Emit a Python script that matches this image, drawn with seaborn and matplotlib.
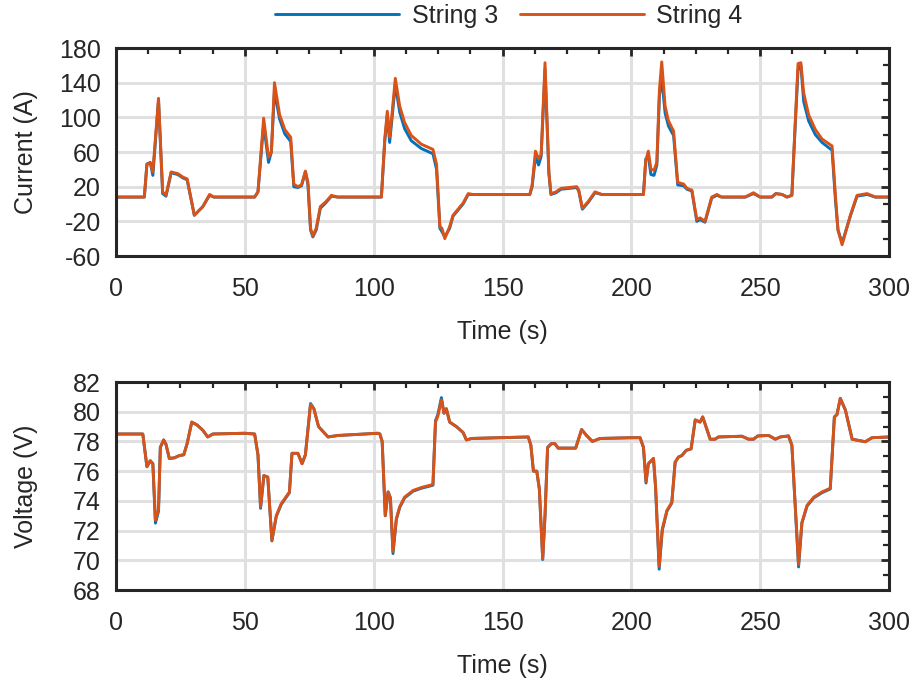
import numpy as np
import pandas as pd
import matplotlib
matplotlib.use("Agg")
import matplotlib.pyplot as plt
from matplotlib.ticker import MultipleLocator
from matplotlib.lines import Line2D
import seaborn as sns

# ---- current (A) ----
t_cur = [0, 11, 12, 13.3, 14.3, 16.5, 18.1, 19.4, 21.4, 24, 26, 27.6, 30.4, 33.7, 36.3, 38,
         53.8, 55.1, 57.3, 59.2, 60.3, 61.5, 63.5, 65.5, 67.8, 69, 70.5, 72, 73.5, 74.5, 75.5,
         76.4, 77.7, 79.3, 81.6, 83.6, 86,
         103, 104.3, 105.3, 106.2, 107, 108.4, 110.1, 112, 114.6, 118.5, 123, 124.4, 125.7,
         126.5, 127.6, 129.5, 130.8, 134.7, 136.7, 138.5,
         160.6, 161.5, 162.8, 164, 165, 166.5, 168, 168.8, 170.8, 172.7, 178.8, 179.6, 181,
         183.3, 185.9, 188.5,
         204.7, 205.6, 206.6, 207.6, 208.8, 209.9, 210.9, 211.8, 213.1, 214.4, 216.4, 218,
         220.3, 221.6, 223.5, 225.4, 226.7, 228.6, 231.2, 233.2, 235, 244.2, 247.4, 250,
         254.5, 256.1, 258.5, 260.4,
         262.3, 263.6, 264.7, 265.8, 266.9, 268.8, 271.4, 274, 277.9, 279.2, 280.2, 281.8,
         285, 287.6, 291.5, 294.7, 300]
i_string3 = [8, 8, 46, 48, 33, 120, 12, 9, 36, 34, 30, 28, -13, -3, 10, 8,
             8, 14, 92, 48, 60, 130, 98, 81, 72, 20, 19, 21, 37, 22, -30,
             -38, -30, -5, 2, 9, 8,
             8, 72, 103, 71, 95, 138, 106, 87, 73, 64, 58, 40, -28,
             -32, -38, -28, -14, 0, 11, 11,
             11, 20, 55, 45, 55, 155, 35, 11, 13, 17, 19, 15, -6,
             2, 13, 11,
             11, 52, 55, 34, 33, 45, 125, 145, 105, 90, 79, 22,
             21, 17, 15, -20, -18, -21, 7, 10, 8, 8, 12, 8,
             8, 12, 11, 8,
             10, 90, 155, 160, 118, 96, 80, 71, 62, 5, -30, -45,
             -14, 9, 11, 8, 8]
i_string4 = [8, 8, 46, 47, 37, 122, 14, 10, 37, 35, 31, 29, -13, -3, 11, 8,
             8, 14, 99, 54, 60, 140, 103, 86, 77, 23, 20, 22, 38, 25, -28,
             -37, -28, -3, 3, 10, 8,
             8, 75, 107, 77, 100, 145, 113, 94, 79, 69, 63, 46, -26,
             -28, -40, -26, -13, 1, 12, 11,
             11, 22, 61, 52, 57, 163, 37, 12, 14, 18, 20, 16, -5,
             3, 14, 11,
             11, 50, 61, 40, 39, 48, 132, 164, 113, 96, 84, 25,
             23, 18, 16, -18, -16, -20, 8, 11, 8, 8, 13, 8,
             8, 12, 11, 8,
             10, 94, 162, 163, 128, 103, 86, 75, 67, 10, -30, -47,
             -13, 10, 12, 8, 8]

# ---- voltage (V) ----
t_vol = [0, 10.4, 12, 13.3, 14.3, 15.3, 16.5, 17.2, 18.5, 19.4, 20.7, 22.7, 24.6, 26.3, 27.6,
         29.4, 31.5, 33.7, 35.6, 37.6, 49.9, 53.8, 55.1, 56.1, 57.4, 58.9, 60.5, 62.2, 64.1,
         66.5, 67.3, 68.3, 70.6, 72.2, 73.5, 75.5, 76.8, 78.6, 82.3, 86.1, 101.7, 102.4,
         103.3, 104.5, 105.6, 106.5, 107.5, 108.8, 110.1, 112, 115.3, 118.5, 123, 124, 124.9,
         126.3, 127.3, 128.2, 129.5, 132.1, 134.7, 136, 138, 160, 161, 162, 163.3, 164.3,
         165.6, 166.5, 167.5, 169, 170.3, 171.6, 178.4, 180.7, 182.6, 184.9, 187.8, 200.2,
         203.4, 204.7, 205.7, 206.6, 208.6, 209.4, 210.8, 212, 213.8, 215.7, 217, 218.3,
         219.6, 221.3, 223.2, 224.8, 226.7, 227.7, 230.6, 232.5, 233.8, 242.9, 245.5, 247.4,
         249.1, 253.3, 255.9, 257.8, 261, 262.3, 264.9, 266.2, 268.2, 270.8, 274, 277.2,
         278.8, 279.8, 281.1, 283.1, 285.7, 290.8, 293.4, 300]
v_string4 = [78.5, 78.5, 76.3, 76.7, 76.5, 72.7, 73.4, 77.6, 78.1, 77.8, 76.85, 76.9, 77.05,
             77.1, 77.85, 79.3, 79.1, 78.75, 78.3, 78.5, 78.55, 78.5, 77.1, 73.6, 75.7, 75.6,
             71.35, 73.0, 73.8, 74.4, 74.6, 77.2, 77.2, 76.5, 77.1, 80.5, 80.2, 79.0, 78.3,
             78.4, 78.55, 78.5, 78.0, 73.0, 74.6, 74.2, 70.6, 72.8, 73.6, 74.25, 74.7, 74.9,
             75.1, 79.3, 79.7, 80.8, 79.9, 80.2, 79.3, 79.0, 78.6, 78.1, 78.2, 78.3, 77.75,
             76.0, 76.0, 74.8, 70.1, 73.0, 77.6, 77.85, 77.85, 77.55, 77.55, 78.8, 78.4, 78.0,
             78.2, 78.25, 78.25, 77.6, 75.3, 76.5, 76.85, 75.0, 69.6, 72.1, 73.35, 73.9, 76.6,
             76.95, 77.05, 77.4, 77.5, 79.45, 79.3, 79.65, 78.15, 78.15, 78.3, 78.35, 78.15,
             78.15, 78.37, 78.4, 78.15, 78.3, 78.37, 77.75, 69.7, 72.55, 73.7, 74.25, 74.6,
             74.85, 79.65, 79.8, 80.9, 80.1, 78.15, 77.98, 78.25, 78.3]
v_string3 = [78.5, 78.5, 76.3, 76.7, 76.5, 72.5, 73.3, 77.6, 78.1, 77.8, 76.85, 76.9, 77.05,
             77.1, 77.85, 79.3, 79.1, 78.75, 78.3, 78.5, 78.55, 78.5, 77.1, 73.5, 75.7, 75.6,
             71.3, 72.95, 73.75, 74.35, 74.55, 77.2, 77.2, 76.5, 77.1, 80.55, 80.2, 79.0, 78.3,
             78.4, 78.55, 78.5, 78.0, 73.0, 74.6, 74.2, 70.45, 72.75, 73.55, 74.2, 74.65, 74.85,
             75.05, 79.4, 79.8, 80.95, 79.9, 80.2, 79.3, 79.0, 78.6, 78.1, 78.2, 78.3, 77.75,
             76.0, 76.0, 74.8, 70.05, 73.0, 77.6, 77.85, 77.85, 77.55, 77.55, 78.8, 78.4, 78.0,
             78.2, 78.25, 78.25, 77.6, 75.2, 76.5, 76.85, 74.9, 69.4, 72.0, 73.3, 73.85, 76.6,
             76.95, 77.05, 77.4, 77.5, 79.45, 79.3, 79.65, 78.15, 78.15, 78.3, 78.35, 78.15,
             78.15, 78.37, 78.4, 78.15, 78.3, 78.37, 77.75, 69.55, 72.5, 73.65, 74.2, 74.55,
             74.8, 79.65, 79.8, 80.9, 80.1, 78.15, 77.98, 78.25, 78.3]

series_names = ["String 3", "String 4"]
palette = {"String 3": "#0072BD", "String 4": "#D95319"}

cur_df = pd.concat([
    pd.DataFrame({"Time": t_cur, "Value": i_string3, "String": series_names[0]}),
    pd.DataFrame({"Time": t_cur, "Value": i_string4, "String": series_names[1]}),
])
vol_df = pd.concat([
    pd.DataFrame({"Time": t_vol, "Value": v_string3, "String": series_names[0]}),
    pd.DataFrame({"Time": t_vol, "Value": v_string4, "String": series_names[1]}),
])

sns.set_theme(style="white")
plt.rcParams["font.family"] = ["Liberation Sans", "DejaVu Sans"]
plt.rcParams["axes.unicode_minus"] = False
dark = "#262626"

fig = plt.figure(figsize=(9.14, 6.84), dpi=100)
ax1 = fig.add_axes([116 / 914, 1 - 256 / 684, 773 / 914, 208 / 684])
ax2 = fig.add_axes([116 / 914, 1 - 590 / 684, 773 / 914, 208 / 684])

for ax, df in ((ax1, cur_df), (ax2, vol_df)):
    sns.lineplot(data=df, x="Time", y="Value", hue="String", palette=palette,
                 linewidth=2.1, ax=ax, legend=False, sort=False)

ax1.set_ylim(-60, 180)
ax1.set_yticks(np.arange(-60, 181, 40))
ax1.yaxis.set_minor_locator(MultipleLocator(20))
ax1.set_ylabel("Current (A)")

ax2.set_ylim(68, 82)
ax2.set_yticks(np.arange(68, 83, 2))
ax2.yaxis.set_minor_locator(MultipleLocator(1))
ax2.set_ylabel("Voltage (V)")

for ax in (ax1, ax2):
    ax.set_xlim(0, 300)
    ax.set_xticks(np.arange(0, 301, 50))
    ax.xaxis.set_minor_locator(MultipleLocator(12.5))
    ax.set_xlabel("Time (s)", fontsize=18, color=dark, labelpad=14)
    ax.yaxis.label.set_fontsize(18)
    ax.yaxis.label.set_color(dark)
    ax.grid(True, which="major", color="#E0E0E0", linewidth=2.2)
    ax.set_axisbelow(True)
    for sp in ax.spines.values():
        sp.set_visible(True)
        sp.set_color(dark)
        sp.set_linewidth(2.2)
    ax.tick_params(axis="both", which="both", direction="in", top=True, right=True,
                   color=dark, labelcolor=dark, labelsize=18)
    ax.tick_params(axis="both", which="major", length=6, width=2)
    ax.tick_params(axis="both", which="minor", length=4, width=1.6)
    ax.tick_params(axis="x", which="major", pad=15)
    ax.tick_params(axis="y", which="major", pad=11)
    ax.yaxis.set_label_coords(-0.101, 0.5)

handles = [Line2D([], [], color=palette[n], linewidth=2.1) for n in series_names]
fig.legend(handles, series_names, loc="center", bbox_to_anchor=(509 / 914, 1 - 16 / 684),
           ncol=2, frameon=False, fontsize=18, handlelength=4.95, handletextpad=0.5,
           columnspacing=0.9, borderpad=0.2)

fig.savefig("out.png", dpi=100)
